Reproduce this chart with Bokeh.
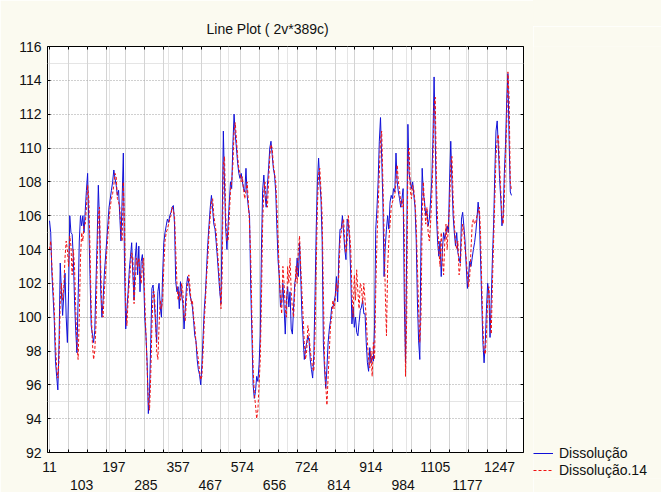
from bokeh.plotting import figure
from bokeh.layouts import row, column
from bokeh.models import Range1d, LinearAxis, FixedTicker, Legend, LegendItem, Grid, Spacer
from bokeh.embed import file_html
from bokeh.resources import INLINE

# ---- data ----
case_labels = ["11", "103", "197", "285", "357", "467", "574", "656",
               "724", "814", "914", "984", "1105", "1177", "1247"]
label_step = 27      # one case label every 27 cases
grid_step = 16       # a grid line every 16 cases
y_ticks = [92, 94, 96, 98, 100, 102, 104, 106, 108, 110, 112, 114, 116]
series_names = ["Dissolução", "Dissolução.14"]

dissolucao = [
    105.7, 105.0, 102.6, 101.2, 99.8, 97.4, 96.5, 95.7, 98.5, 103.2,
    101.5, 100.1, 101.3, 102.6, 100.0, 98.5, 101.5, 106.0, 105.0, 104.9,
    103.5, 101.0, 99.2, 97.9, 101.0, 104.5, 106.0, 105.4, 106.0, 105.0,
    106.3, 107.5, 108.5, 105.5, 102.4, 99.5, 99.0, 98.5, 99.2, 102.0,
    104.5, 107.8, 105.6, 101.5, 100.0, 101.0, 102.5, 103.5, 104.5, 105.5,
    106.5, 107.0, 107.5, 108.0, 108.7, 108.2, 107.8, 107.2, 107.5, 106.0,
    104.5, 107.0, 109.7, 103.0, 99.3, 100.5, 101.5, 102.8, 103.6, 104.4,
    102.5, 101.0, 103.5, 104.4, 102.5, 104.2, 101.5, 103.3, 103.7, 102.5,
    100.0, 98.9, 97.3, 94.3, 95.5, 98.5, 101.7, 101.9, 100.9, 99.7,
    98.5, 101.5, 102.0, 100.6, 100.0, 102.5, 104.4, 105.0, 105.4, 105.8,
    105.6, 106.0, 106.2, 106.5, 106.6, 105.5, 102.1, 101.5, 101.8, 100.5,
    102.1, 101.3, 100.8, 99.3, 100.5, 101.8, 102.4, 102.0, 101.3, 101.0,
    100.6, 99.8, 98.9, 98.6, 97.5, 96.9, 96.6, 96.0, 97.2, 98.9,
    100.5, 101.5, 103.0, 104.4, 105.5, 106.5, 107.2, 106.4, 105.5, 105.2,
    104.4, 103.5, 102.5, 101.5, 100.8, 105.5, 111.0, 107.8, 105.2, 104.0,
    105.5, 106.8, 108.0, 107.6, 110.2, 112.0, 110.8, 110.0, 109.1, 108.5,
    108.2, 108.5, 108.0, 107.6, 107.4, 108.8, 107.2, 106.5, 106.0, 101.7,
    98.9, 96.0, 95.2, 95.6, 96.5, 96.2, 97.2, 98.9, 104.0, 107.5,
    108.4, 107.2, 106.5, 107.8, 108.8, 110.0, 110.4, 109.6, 108.8, 108.4,
    107.4, 105.2, 103.3, 102.4, 100.6, 101.0, 102.0, 100.6, 99.0, 101.0,
    101.8, 100.6, 101.5, 99.3, 99.0, 100.6, 102.0, 102.4, 103.5, 102.4,
    104.4, 102.4, 100.1, 98.8, 97.5, 98.1, 98.5, 98.9, 98.6, 97.5,
    96.9, 96.4, 97.8, 101.3, 105.2, 108.0, 109.4, 108.0, 107.0, 104.5,
    98.5, 96.9, 95.8, 97.0, 98.5, 99.3, 99.8, 100.6, 100.6, 100.9,
    101.3, 102.4, 100.9, 103.6, 105.2, 105.2, 106.0, 105.0, 104.0, 103.4,
    105.8, 105.5, 104.6, 102.5, 99.6, 100.6, 99.4, 100.0, 99.1, 98.9,
    99.7, 100.4, 100.6, 101.0, 100.2, 100.2, 98.5, 97.3, 96.8, 98.2,
    97.3, 97.7, 97.4, 99.5, 105.2, 106.4, 108.0, 110.4, 111.8, 109.4,
    106.8, 102.4, 104.2, 105.2, 106.0, 105.2, 106.8, 107.2, 107.0, 107.6,
    107.4, 109.7, 108.0, 107.4, 107.0, 106.5, 107.0, 107.6, 101.0, 97.3,
    104.0, 111.4, 108.5, 108.0, 107.6, 108.0, 107.2, 106.5, 104.5, 100.9,
    98.6, 97.5, 104.5, 108.8, 107.3, 106.8, 106.0, 106.3, 105.4, 105.8,
    106.8, 108.0, 110.4, 114.2, 110.5, 106.0, 104.4, 103.6, 104.5, 102.4,
    104.0, 105.0, 104.6, 105.0, 105.4, 105.0, 108.0, 110.4, 108.0, 106.0,
    105.0, 104.2, 105.0, 103.8, 103.5, 103.2, 105.8, 106.2, 105.4, 104.5,
    103.0, 101.7, 102.5, 103.3, 103.0, 103.5, 104.0, 104.4, 105.0, 105.8,
    106.8, 106.0, 103.5, 101.0, 98.5, 97.3, 98.5, 100.5, 102.0, 101.5,
    98.8, 101.0, 103.5, 105.5, 108.5, 111.0, 111.6, 110.0, 108.2, 107.0,
    105.4, 106.0, 108.5, 110.2, 112.8, 114.4, 110.5, 107.4, 107.2,
]

dissolucao_14 = [
    104.0, 104.5, 103.0, 101.8, 100.5, 98.5, 97.0, 96.4, 97.5, 101.0,
    102.0, 101.0, 101.8, 103.5, 104.5, 104.0, 103.0, 104.8, 104.2, 102.5,
    104.0, 103.0, 100.5, 98.5, 97.5, 100.0, 103.5, 105.0, 104.5, 105.5,
    105.5, 106.5, 107.8, 107.0, 104.0, 100.5, 98.5, 97.5, 98.0, 99.5,
    103.0, 106.0, 106.5, 103.0, 100.5, 100.0, 101.5, 102.5, 103.8, 104.8,
    105.8, 106.5, 107.0, 107.3, 107.8, 108.5, 108.3, 107.0, 106.8, 106.5,
    105.0, 104.5, 108.0, 105.5, 100.5, 99.5, 101.0, 102.0, 103.0, 103.8,
    103.5, 100.8, 102.0, 103.5, 103.0, 103.5, 102.5, 102.0, 103.0, 103.5,
    101.0, 99.0, 97.0, 95.0, 94.5, 96.5, 99.5, 101.5, 101.5, 100.0,
    98.0, 97.5, 99.5, 101.0, 100.5, 101.0, 103.0, 104.5, 105.0, 105.2,
    105.5, 105.8, 106.0, 106.5, 106.3, 106.0, 104.0, 102.0, 101.0, 101.5,
    101.0, 102.0, 101.5, 100.0, 99.8, 101.0, 102.0, 102.5, 101.8, 100.8,
    101.0, 100.0, 99.5, 98.5, 98.0, 97.5, 96.8, 96.3, 96.5, 98.0,
    99.8, 101.0, 102.5, 103.5, 105.0, 106.0, 106.8, 107.0, 106.0, 105.5,
    105.0, 104.0, 103.0, 102.0, 100.5, 102.5, 109.0, 109.5, 106.0, 104.5,
    104.5, 106.0, 107.5, 108.0, 109.0, 111.0, 111.5, 110.5, 109.5, 108.8,
    108.5, 108.0, 108.3, 107.5, 107.0, 107.5, 108.0, 106.8, 105.5, 103.5,
    100.0, 97.0, 95.5, 94.8, 94.0, 94.5, 96.0, 97.5, 101.0, 105.5,
    107.5, 108.0, 106.8, 106.5, 108.0, 109.5, 110.2, 110.0, 109.0, 108.5,
    108.0, 106.5, 104.5, 102.5, 101.0, 100.2, 103.0, 102.0, 100.5, 100.0,
    103.0, 102.0, 103.5, 101.5, 100.5, 100.0, 101.5, 103.0, 102.0, 104.0,
    104.8, 103.0, 101.5, 100.0, 98.5, 97.5, 98.0, 99.5, 99.0, 98.0,
    97.5, 97.0, 96.8, 99.0, 103.0, 106.5, 108.5, 108.8, 107.5, 106.0,
    101.5, 97.5, 96.0, 94.8, 96.5, 98.0, 99.5, 100.0, 101.0, 100.5,
    101.0, 102.0, 101.5, 102.5, 104.5, 105.0, 105.5, 105.8, 104.5, 103.8,
    104.5, 106.0, 105.0, 104.0, 101.5, 100.0, 102.5, 101.0, 102.8, 101.5,
    100.5, 102.0, 101.8, 100.8, 102.0, 101.0, 100.0, 98.5, 97.5, 97.0,
    98.0, 96.5, 98.5, 97.5, 101.5, 104.5, 106.5, 108.5, 110.5, 111.0,
    108.0, 105.0, 101.5, 98.9, 103.0, 104.5, 105.5, 106.5, 106.8, 107.0,
    107.2, 108.0, 109.0, 108.0, 107.5, 106.8, 106.5, 107.0, 105.0, 96.5,
    100.0, 109.5, 110.0, 107.5, 107.0, 107.8, 107.5, 106.8, 105.5, 103.0,
    100.5, 98.5, 100.0, 106.0, 108.0, 106.5, 105.5, 106.5, 105.0, 104.5,
    105.5, 107.0, 109.0, 112.5, 113.0, 108.0, 105.5, 104.0, 103.0, 105.0,
    103.5, 102.5, 104.5, 105.5, 104.0, 105.5, 106.5, 109.0, 109.5, 107.0,
    105.5, 104.5, 104.0, 104.5, 102.5, 103.0, 104.5, 105.5, 105.0, 104.0,
    103.5, 102.5, 101.8, 102.5, 104.0, 105.5, 105.8, 105.5, 105.6, 106.0,
    106.2, 106.5, 105.0, 102.0, 99.5, 98.0, 97.8, 99.0, 101.0, 101.8,
    100.0, 99.0, 102.0, 104.5, 107.0, 109.5, 110.5, 110.8, 109.0, 107.5,
    106.0, 105.5, 107.0, 109.5, 111.5, 114.5, 113.0, 108.0, 107.5,
]

case_index = list(range(len(dissolucao)))

FONT = "Liberation Sans"
CREAM = "#FBFAF0"
BLUE = "#1010D8"
RED = "#F01010"
DASH = "3 2"

p = figure(width=533, height=492, output_backend="svg", toolbar_location=None,
           x_range=Range1d(-1.7, 398.1), y_range=Range1d(92, 116),
           x_axis_location=None, y_axis_location=None,
           min_border_left=47, min_border_right=10,
           min_border_top=46, min_border_bottom=40,
           title="Line Plot ( 2v*389c)")
p.background_fill_color = "white"
p.border_fill_color = CREAM
p.outline_line_color = "black"
p.outline_line_width = 1

p.title.align = "left"
p.title.offset = 159
p.title.text_font = FONT
p.title.text_font_size = "14px"
p.title.text_font_style = "normal"
p.title.text_color = "#111111"
p.title.standoff = 20

grid_ticks = list(range(0, len(dissolucao), grid_step))

# grids
p.add_layout(Grid(dimension=0, ticker=FixedTicker(ticks=grid_ticks),
                  grid_line_color="#d4d4d4", grid_line_width=1))
p.add_layout(Grid(dimension=1, ticker=FixedTicker(ticks=y_ticks[1:-1]),
                  grid_line_color="#a0a0a0", grid_line_dash="1 2", grid_line_width=1))


def tick_only_axis(ticks):
    return LinearAxis(ticker=FixedTicker(ticks=ticks), major_tick_in=3, major_tick_out=0,
                      major_tick_line_color="black", minor_tick_line_color=None,
                      axis_line_color=None, major_label_text_font_size="1px",
                      major_label_text_color=None, major_label_standoff=0)


# y axis with labels
yax = LinearAxis(ticker=FixedTicker(ticks=y_ticks), major_tick_in=3, major_tick_out=0,
                 major_tick_line_color="black", minor_tick_line_color=None,
                 axis_line_color=None, major_label_standoff=6,
                 major_label_text_font=FONT, major_label_text_font_size="14px",
                 major_label_text_color="#111111")
p.add_layout(yax, "left")
p.add_layout(tick_only_axis(y_ticks), "right")
p.add_layout(tick_only_axis(grid_ticks), "above")
p.add_layout(tick_only_axis(grid_ticks), "below")

# two rows of case labels
for r in (0, 1):
    pos = [label_step * i for i in range(len(case_labels)) if i % 2 == r]
    ax = LinearAxis(ticker=FixedTicker(ticks=pos),
                    major_label_overrides={label_step * i: case_labels[i]
                                           for i in range(len(case_labels)) if i % 2 == r},
                    major_tick_line_color=None, minor_tick_line_color=None,
                    axis_line_color=None, major_tick_in=0, major_tick_out=0,
                    major_label_standoff=9 if r == 0 else 5,
                    major_label_text_font=FONT, major_label_text_font_size="14px",
                    major_label_text_color="#111111")
    p.add_layout(ax, "below")

p.line(case_index, dissolucao, line_color=BLUE, line_width=1)
p.line(case_index, dissolucao_14, line_color=RED, line_width=1, line_dash=DASH)

# legend panel to the right of the plot, shifted down by a spacer
# (the series lie outside its visible range, only the legend shows)
SHIFT = 26
pl = figure(width=128, height=492 - SHIFT, output_backend="svg", toolbar_location=None,
            x_range=Range1d(0, 1), y_range=Range1d(0, 1),
            x_axis_location=None, y_axis_location=None,
            min_border_left=0, min_border_right=0,
            min_border_top=46 - SHIFT, min_border_bottom=40 - SHIFT)
pl.background_fill_color = CREAM
pl.border_fill_color = CREAM
pl.outline_line_color = None
pl.xgrid.visible = False
pl.ygrid.visible = False
k1 = pl.line(case_index, dissolucao, line_color=BLUE, line_width=1)
k2 = pl.line(case_index, dissolucao_14, line_color=RED, line_width=1, line_dash=DASH)
legend = Legend(items=[LegendItem(label=series_names[0], renderers=[k1]),
                       LegendItem(label=series_names[1], renderers=[k2])],
                location=(0, 0), background_fill_alpha=0, border_line_color=None,
                label_text_font=FONT, label_text_font_size="14px", label_text_color="#111111",
                glyph_width=20, glyph_height=12, label_height=12, label_standoff=6,
                padding=0, margin=0, spacing=1)
pl.add_layout(legend)

top_pad = Spacer(width=128, height=SHIFT, styles={"background-color": CREAM})
layout = row(p, column(top_pad, pl, spacing=0), spacing=0)
open("out.html", "w", encoding="utf-8").write(file_html(layout, INLINE))
